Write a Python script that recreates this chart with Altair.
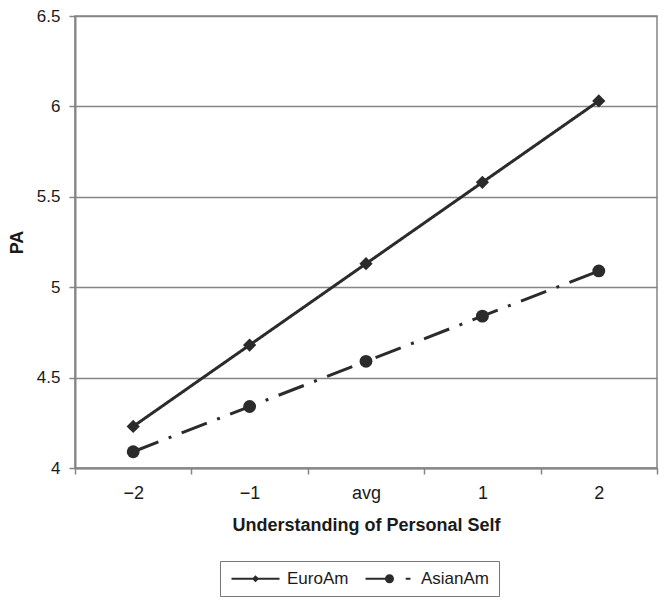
import altair as alt
import pandas as pd

# ---- data ----
categories = ["−2", "−1", "avg", "1", "2"]
euro_am = [4.23, 4.68, 5.13, 5.58, 6.03]
asian_am = [4.09, 4.34, 4.59, 4.84, 5.09]
series_names = ["EuroAm", "AsianAm"]
y_ticks = [4, 4.5, 5, 5.5, 6, 6.5]

rows = []
for name, vals in zip(series_names, [euro_am, asian_am]):
    for c, v in zip(categories, vals):
        rows.append({"cond": c, "PA": v, "group": name})
df = pd.DataFrame(rows)

FONT = "Liberation Sans"
INK = "#2b2b2b"
GRAY = "#858585"
TEXT = "#1a1a1a"

x_enc = alt.X(
    "cond:N",
    sort=categories,
    bandPosition=0.5,
    scale=alt.Scale(type="band", domain=categories, paddingInner=0, paddingOuter=0),
    axis=alt.Axis(
        title="Understanding of Personal Self",
        labelAngle=0,
        tickBand="extent",
        grid=False,
        domainColor=GRAY,
        domainWidth=2,
        tickColor=GRAY,
        tickWidth=1.5,
        tickSize=6,
        labelFont=FONT,
        labelFontSize=18,
        labelColor=TEXT,
        labelPadding=10,
        titleFont=FONT,
        titleFontSize=18,
        titleFontWeight="bold",
        titleColor=TEXT,
        titlePadding=14,
    ),
)

y_enc = alt.Y(
    "PA:Q",
    scale=alt.Scale(domain=[4, 6.5], nice=False, zero=False),
    axis=alt.Axis(
        title="PA",
        values=y_ticks,
        format="~g",
        grid=True,
        gridColor=GRAY,
        gridWidth=1.5,
        domainColor=GRAY,
        domainWidth=2,
        tickColor=GRAY,
        tickWidth=1.5,
        tickSize=6,
        labelFont=FONT,
        labelFontSize=17,
        labelColor=TEXT,
        labelPadding=9,
        titleFont=FONT,
        titleFontSize=18,
        titleFontWeight="bold",
        titleColor=TEXT,
        titlePadding=10,
    ),
)

base = alt.Chart(df)

lines = base.mark_line(strokeWidth=3, color=INK, strokeCap="butt").encode(
    x=x_enc,
    y=y_enc,
    detail="group:N",
    strokeDash=alt.StrokeDash(
        "group:N",
        scale=alt.Scale(domain=series_names, range=[[1, 0], [27, 11, 3, 11]]),
        legend=None,
    ),
)

points = base.mark_point(filled=True, opacity=1, color=INK).encode(
    x=x_enc,
    y=y_enc,
    shape=alt.Shape(
        "group:N",
        scale=alt.Scale(domain=series_names, range=["diamond", "circle"]),
        legend=None,
    ),
    size=alt.Size(
        "group:N",
        scale=alt.Scale(domain=series_names, range=[175, 165]),
        legend=None,
    ),
)

# legend symbols: line segment(s) plus the marker, all as filled shapes
# (unit = 6 px, symbol box 48 px wide); all subpaths wound clockwise
def bar(x0, x1, h=0.17):
    return f"M{x0},{-h}H{x1}V{h}H{x0}Z"


def diamond(cx, r):
    return f"M{cx},{-r}L{cx + r},0L{cx},{r}L{cx - r},0Z"


def circle(cx, r):
    return f"M{cx - r},0A{r},{r},0,1,1,{cx + r},0A{r},{r},0,1,1,{cx - r},0Z"


euro_path = bar(-1, 7) + diamond(3, 0.6)
asian_path = bar(-1, 3) + bar(5.7, 6.5) + circle(3, 0.75)

legend_layer = base.mark_point(filled=True, opacity=0, color=INK).encode(
    x=x_enc,
    y=y_enc,
    shape=alt.Shape(
        "group:N",
        sort=series_names,
        scale=alt.Scale(domain=series_names, range=[euro_path, asian_path]),
        legend=alt.Legend(
            title=None,
            orient="none",
            legendX=145,
            legendY=545,
            direction="horizontal",
            strokeColor="#777777",
            padding=9,
            symbolSize=144,
            symbolFillColor=INK,
            symbolStrokeWidth=0,
            symbolOpacity=1,
            labelFont=FONT,
            labelFontSize=17,
            labelColor=TEXT,
            labelOffset=41,
            columnPadding=14,
        ),
    ),
)

chart = (
    alt.layer(lines, points, legend_layer)
    .resolve_scale(shape="independent")
    .properties(
        width=582,
        height=452,
        padding={"left": 67, "top": 8, "right": 4, "bottom": 129},
        autosize=alt.AutoSizeParams(type="none"),
        background="white",
    )
    .configure_view(stroke=GRAY, strokeWidth=1.5)
)

chart.save("out.html", embed_options={"renderer": "svg", "actions": False})
